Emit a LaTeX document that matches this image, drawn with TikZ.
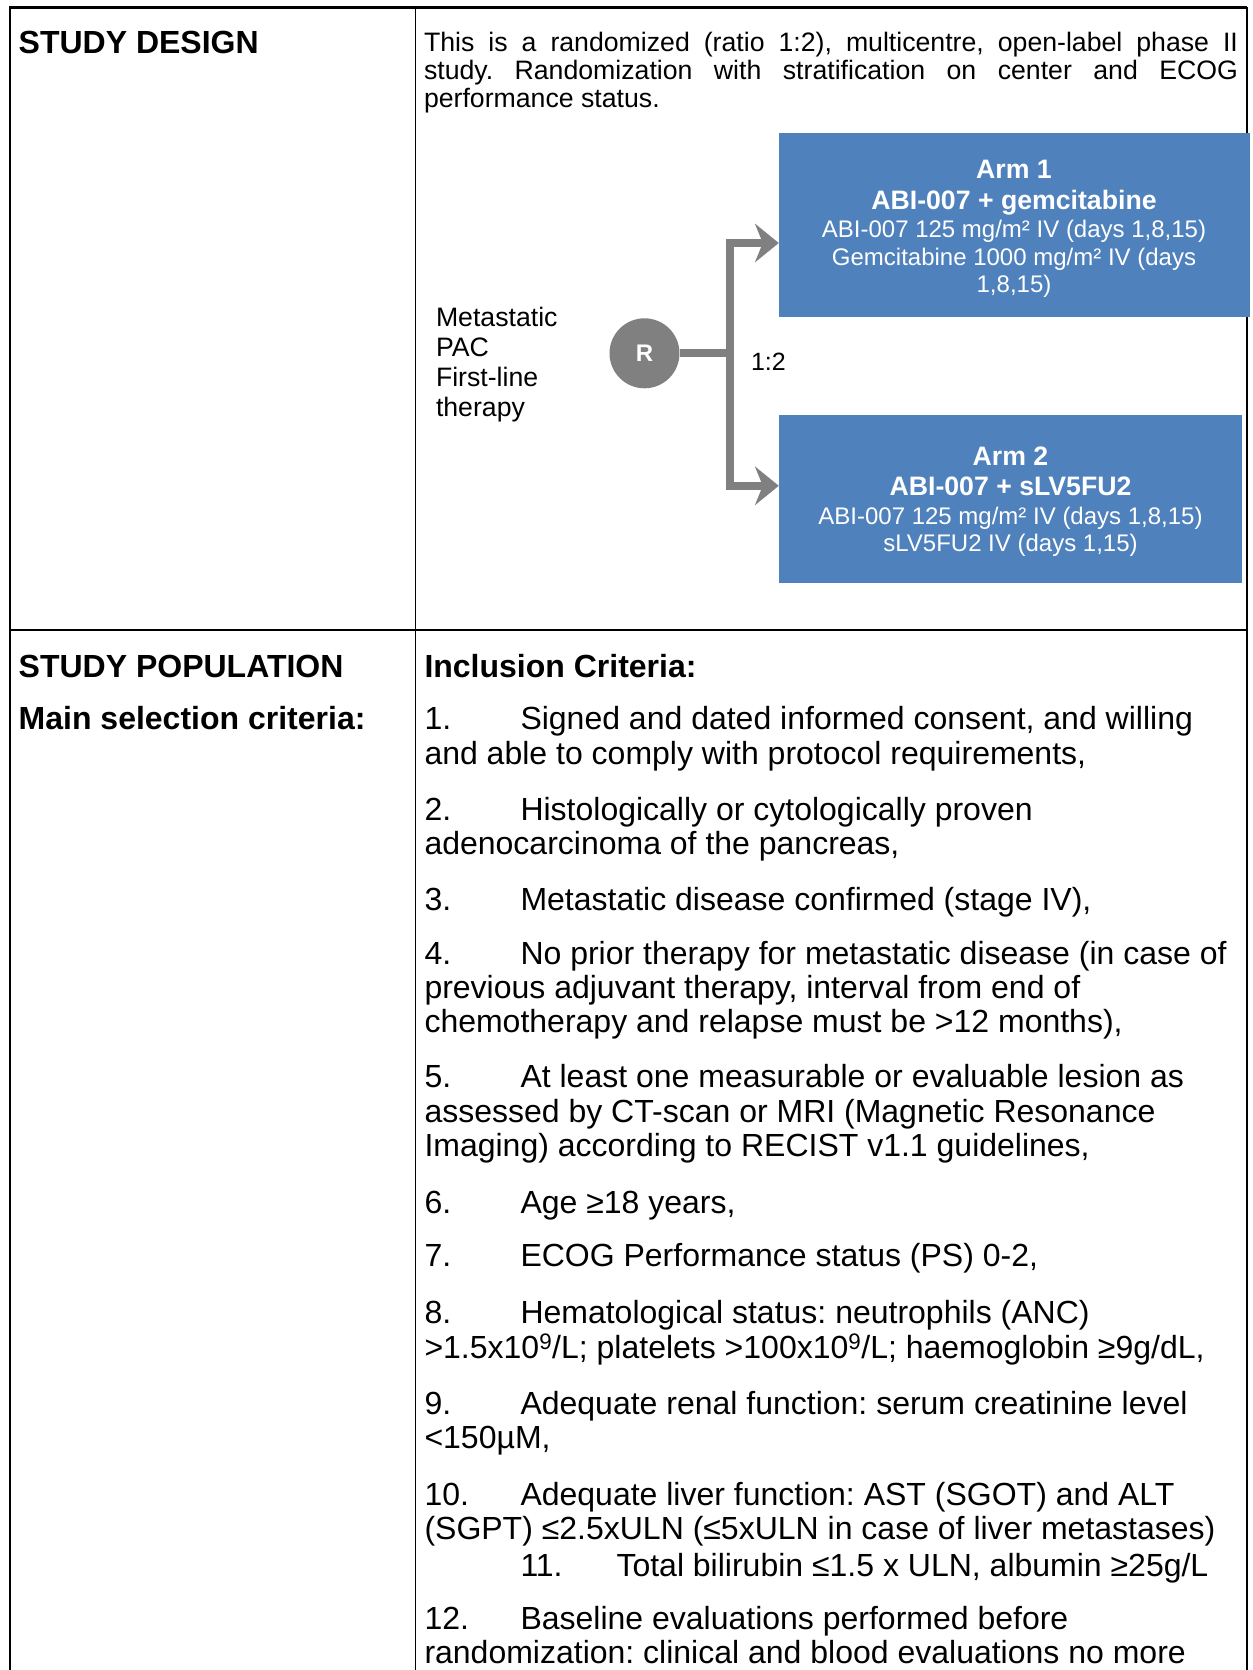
\documentclass[tikz,border=0pt]{standalone}
\usepackage{fontspec}
\setmainfont{Liberation Sans}
\usetikzlibrary{arrows.meta}
\definecolor{armblue}{HTML}{4F81BD}
\definecolor{conngray}{HTML}{808080}
\frenchspacing
\begin{document}
\begin{tikzpicture}[x=1bp,y=-1bp,
  txt/.style={anchor=base west, inner sep=0pt, outer sep=0pt},
  body/.style={txt, font=\fontsize{32bp}{37bp}\selectfont},
  head/.style={txt, font=\fontsize{32bp}{37bp}\selectfont\bfseries},
  para/.style={txt, font=\fontsize{26.67bp}{30bp}\selectfont},
  small/.style={txt, font=\fontsize{25bp}{28bp}\selectfont},
  armbox/.style={fill=armblue, draw=none, inner sep=0pt},
  armtxt/.style={anchor=base, inner sep=0pt, outer sep=0pt, text=white, font=\fontsize{24bp}{28bp}\selectfont},
  armhd/.style={armtxt, font=\fontsize{26.67bp}{30bp}\selectfont\bfseries},
  randc/.style={circle, fill=conngray, draw=none, minimum size=70bp, inner sep=0pt, text=white, font=\fontsize{24bp}{26bp}\selectfont\bfseries},
  conn/.style={draw=conngray, line width=8bp, line join=miter},
  tipend/.style={-{Stealth[length=24bp, width=39bp, inset=8bp, line width=0pt]}},
  thickrule/.style={line width=2.3bp, black},
  thinrule/.style={line width=1.5bp, black}
]
\fill[white] (0,0) rectangle (1252,1670);
\useasboundingbox (0,0) rectangle (1252,1670);

% table rules
\draw[thickrule] (10,1680) -- (10,7.5) -- (1247,7.5);
\draw[thinrule] (1247,7.5) -- (1247,1680);
\draw[thinrule] (415.7,7.5) -- (415.7,1680);
\draw[thinrule] (10,630) -- (1247,630);

% left column
\node[head] (hdesign) at (18.7,53.3) {STUDY DESIGN};
\node[head] (hpop) at (18.7,677) {STUDY POPULATION};
\node[head] (hsel) at (18.7,729.5) {Main selection criteria:};

% study design paragraph
\node[para] (p1) at (424,51.7) {\makebox[814bp][s]{This is a randomized (ratio 1:2), multicentre, open-label phase II}};
\node[para] (p2) at (424,79.4) {\makebox[814bp][s]{study. Randomization with stratification on center and ECOG}};
\node[para] (p3) at (424,107.1) {performance status.};

% arms
\node[armbox, minimum width=471bp, minimum height=184bp] (arm1) at (1014.5,225) {};
\node[armbox, minimum width=463bp, minimum height=168bp] (arm2) at (1010.5,499) {};
\node[armhd] (a1l1) at (1014,178.5) {Arm 1};
\node[armhd] (a1l2) at (1014,209) {ABI-007 + gemcitabine};
\node[armtxt] (a1l3) at (1014,237) {ABI-007 125 mg/m² IV (days 1,8,15)};
\node[armtxt] (a1l4) at (1014,265) {Gemcitabine 1000 mg/m² IV (days};
\node[armtxt] (a1l5) at (1014,292) {1,8,15)};
\node[armhd] (a2l1) at (1010.5,465) {Arm 2};
\node[armhd] (a2l2) at (1010.5,495) {ABI-007 + sLV5FU2};
\node[armtxt] (a2l3) at (1010.5,524) {ABI-007 125 mg/m² IV (days 1,8,15)};
\node[armtxt] (a2l4) at (1010.5,551.5) {sLV5FU2 IV (days 1,15)};

\node[para] (m1) at (436,326.7) {Metastatic};
\node[para] (m2) at (436,356.7) {PAC};
\node[para] (m3) at (436,386.7) {First-line};
\node[para] (m4) at (436,416.7) {therapy};

\node[randc] (R) at (644.5,353.3) {R};
\coordinate (fork) at (729.5,353.3);
\coordinate (y1) at (0,243);
\coordinate (y2) at (0,485.8);
\draw[conn] (R.east) -- (fork);
\draw[conn, tipend] (fork) |- (arm1.west |- y1);
\draw[conn, tipend] (fork) |- (arm2.west |- y2);
\node[small] (ratio) at (751,370) {1:2};

% inclusion criteria
\node[head] (inc) at (424.5,677) {Inclusion Criteria:};
\node[body] (n1) at (424.5,729.5) {1.};
\node[body] (t1a) at (520.5,729.5) {Signed and dated informed consent, and willing};
\node[body] (t1b) at (424.5,764) {and able to comply with protocol requirements,};
\node[body] (n2) at (424.5,820) {2.};
\node[body] (t2a) at (520.5,820) {Histologically or cytologically proven};
\node[body] (t2b) at (424.5,854) {adenocarcinoma of the pancreas,};
\node[body] (n3) at (424.5,910.5) {3.};
\node[body] (t3a) at (520.5,910.5) {Metastatic disease confirmed (stage IV),};
\node[body] (n4) at (424.5,964.5) {4.};
\node[body] (t4a) at (520.5,964.5) {No prior therapy for metastatic disease (in case of};
\node[body] (t4b) at (424.5,998.5) {previous adjuvant therapy, interval from end of};
\node[body] (t4c) at (424.5,1032) {chemotherapy and relapse must be >12 months),};
\node[body] (n5) at (424.5,1087.5) {5.};
\node[body] (t5a) at (520.5,1087.5) {At least one measurable or evaluable lesion as};
\node[body] (t5b) at (424.5,1122) {assessed by CT-scan or MRI (Magnetic Resonance};
\node[body] (t5c) at (424.5,1156) {Imaging) according to RECIST v1.1 guidelines,};
\node[body] (n6) at (424.5,1213) {6.};
\node[body] (t6a) at (520.5,1213) {Age ≥18 years,};
\node[body] (n7) at (424.5,1266.5) {7.};
\node[body] (t7a) at (520.5,1266.5) {ECOG Performance status (PS) 0-2,};
\node[body] (n8) at (424.5,1323.5) {8.};
\node[body] (t8a) at (520.5,1323.5) {Hematological status: neutrophils (ANC)};
\node[body] (t8b) at (424.5,1358.5) {>1.5x10\textsuperscript{9}/L; platelets >100x10\textsuperscript{9}/L; haemoglobin ≥9g/dL,};
\node[body] (n9) at (424.5,1414.5) {9.};
\node[body] (t9a) at (520.5,1414.5) {Adequate renal function: serum creatinine level};
\node[body] (t9b) at (424.5,1448.5) {<150µM,};
\node[body] (n10) at (424.5,1505) {10.};
\node[body] (t10a) at (520.5,1505) {Adequate liver function: AST (SGOT) and ALT};
\node[body] (t10b) at (424.5,1539.5) {(SGPT) ≤2.5xULN (≤5xULN in case of liver metastases)};
\node[body] (n11) at (520.5,1576) {11.};
\node[body] (t11a) at (616.5,1576) {Total bilirubin ≤1.5 x ULN, albumin ≥25g/L};
\node[body] (n12) at (424.5,1629.5) {12.};
\node[body] (t12a) at (520.5,1629.5) {Baseline evaluations performed before};
\node[body] (t12b) at (424.5,1663) {randomization: clinical and blood evaluations no more};
\end{tikzpicture}
\end{document}
